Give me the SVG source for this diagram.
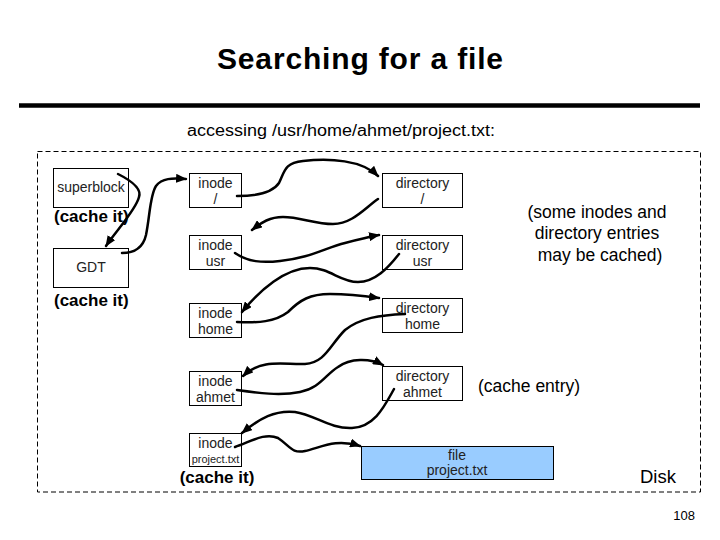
<svg xmlns="http://www.w3.org/2000/svg" width="720" height="540" viewBox="0 0 720 540">
<style>
text{font-family:"Liberation Sans",Arial,sans-serif;}
.box{fill:#fff;stroke:#000;stroke-width:1;}
.file{fill:#99ccff;stroke:#000;stroke-width:1;}
.lbl{font-size:14px;fill:#222;text-anchor:middle;}
.sm{font-size:11px;fill:#222;text-anchor:middle;}
.note{font-size:17px;font-weight:bold;fill:#000;}
.rem{font-size:17.5px;fill:#000;}
.conn{fill:none;stroke:#000;stroke-width:2.5;stroke-linecap:round;marker-end:url(#ah);}
</style>
<defs>
<marker id="ah" markerUnits="userSpaceOnUse" markerWidth="11" markerHeight="9" refX="10" refY="4.5" orient="auto">
<path d="M0,0 L11,4.5 L0,9 z" fill="#000"/>
</marker>
</defs>
<rect width="720" height="540" fill="#fff"/>
<text x="360" y="69" font-size="30" font-weight="bold" text-anchor="middle" textLength="286" lengthAdjust="spacing">Searching for a file</text>
<line x1="19" y1="105.5" x2="700" y2="105.5" stroke="#000" stroke-width="4.5"/>
<text x="341" y="136" font-size="16" text-anchor="middle" textLength="308" lengthAdjust="spacingAndGlyphs">accessing /usr/home/ahmet/project.txt:</text>
<rect id="disk-border" x="37.5" y="151.5" width="663" height="340.5" fill="none" stroke="#000" stroke-width="1" stroke-dasharray="5,3"/>

<g id="superblock"><rect class="box" x="53.5" y="168.5" width="75" height="39"/><text class="lbl" x="91" y="192">superblock</text></g>
<text class="note" x="54" y="222">(cache it)</text>
<g id="gdt"><rect class="box" x="53.5" y="248.5" width="75" height="39"/><text class="lbl" x="91" y="272">GDT</text></g>
<text class="note" x="54" y="306">(cache it)</text>

<g id="inode-root"><rect class="box" x="189.5" y="173.5" width="52" height="34"/><text class="lbl" x="215.5" y="188">inode</text><text class="lbl" x="215.5" y="204">/</text></g>
<g id="inode-usr"><rect class="box" x="189.5" y="235.5" width="52" height="34"/><text class="lbl" x="215.5" y="250">inode</text><text class="lbl" x="215.5" y="266">usr</text></g>
<g id="inode-home"><rect class="box" x="189.5" y="303.5" width="52" height="34"/><text class="lbl" x="215.5" y="318">inode</text><text class="lbl" x="215.5" y="334">home</text></g>
<g id="inode-ahmet"><rect class="box" x="189.5" y="371.5" width="52" height="34"/><text class="lbl" x="215.5" y="386">inode</text><text class="lbl" x="215.5" y="402">ahmet</text></g>
<g id="inode-project"><rect class="box" x="189.5" y="433.5" width="52" height="33"/><text class="lbl" x="215.5" y="448">inode</text><text class="sm" x="215.5" y="463">project.txt</text></g>
<text class="note" x="217" y="483" text-anchor="middle">(cache it)</text>

<g id="dir-root"><rect class="box" x="382.5" y="173.5" width="80" height="34"/><text class="lbl" x="422.5" y="188">directory</text><text class="lbl" x="422.5" y="204">/</text></g>
<g id="dir-usr"><rect class="box" x="382.5" y="235.5" width="80" height="34"/><text class="lbl" x="422.5" y="250">directory</text><text class="lbl" x="422.5" y="266">usr</text></g>
<g id="dir-home"><rect class="box" x="382.5" y="298.5" width="80" height="34"/><text class="lbl" x="422.5" y="313">directory</text><text class="lbl" x="422.5" y="329">home</text></g>
<g id="dir-ahmet"><rect class="box" x="382.5" y="366.5" width="80" height="34"/><text class="lbl" x="422.5" y="381">directory</text><text class="lbl" x="422.5" y="397">ahmet</text></g>
<g id="file-project"><rect class="file" x="361.5" y="446.5" width="192" height="33"/><text class="lbl" x="457" y="460">file</text><text class="lbl" x="457" y="475">project.txt</text></g>

<text class="rem" x="597" y="218" text-anchor="middle">(some inodes and</text>
<text class="rem" x="597" y="239" text-anchor="middle">directory entries</text>
<text class="rem" x="600" y="261" text-anchor="middle">may be cached)</text>
<text class="rem" x="478" y="392">(cache entry)</text>
<text font-size="18.5" x="640" y="483">Disk</text>
<text font-size="13" x="695" y="520" text-anchor="end">108</text>

<g id="connectors">
<path class="conn" d="M118,174 C130,180 142,188 139,197 C136,210 115,232 106,246"/>
<path class="conn" d="M122,253 C135,253 143,248 146,235 C150,215 150,195 156,186 C162,178 172,178 186,179"/>
<path class="conn" d="M237,196 C258,196 273,192 279,183 C285,170 285,163 303,161 C330,158 362,160 378,176"/>
<path class="conn" d="M378,199 C365,208 352,224 333,224 C315,224 300,217 283,217 C270,217 262,222 252,230"/>
<path class="conn" d="M235,253 C248,262 262,263 280,261 C310,258 325,248 345,243 C360,239 368,237 379,235"/>
<path class="conn" d="M399,254 C388,268 375,282 358,282 C340,282 330,268 310,268 C285,268 260,290 242,312"/>
<path class="conn" d="M237,322 C258,323 275,322 288,312 C300,300 310,294 330,294 C350,294 365,296 379,298"/>
<path class="conn" d="M405,314 C380,315 360,318 345,330 C330,345 325,363 305,364 C285,365 262,358 243,376"/>
<path class="conn" d="M237,390 C258,393 280,396 300,392 C320,388 325,375 338,367 C350,358 370,358 383,365"/>
<path class="conn" d="M394,389 C385,405 375,427 352,428 C330,429 315,415 295,412 C275,410 260,418 242,433"/>
<path class="conn" d="M235,447 C250,442 265,432 278,438 C290,446 292,454 305,451 C320,448 335,438 360,446"/>
</g>
</svg>
